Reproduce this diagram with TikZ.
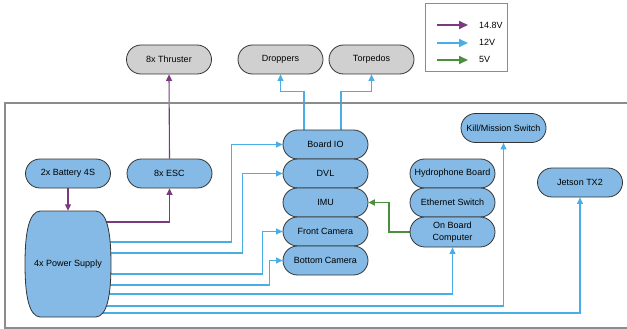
\documentclass[tikz,border=0pt]{standalone}
\usepackage{fontspec}
\setmainfont{Liberation Sans}
\usetikzlibrary{shapes.misc,arrows.meta,calc,backgrounds}
\definecolor{nodeblue}{HTML}{84BAE5}
\definecolor{nodegray}{HTML}{D0D0D0}
\definecolor{bordc}{HTML}{333333}
\definecolor{c12}{HTML}{4AAEE6}
\definecolor{c148}{HTML}{7A3A80}
\definecolor{c5}{HTML}{4A8F3C}
\definecolor{framec}{HTML}{8C8C8C}
\begin{document}
\begin{tikzpicture}[x=1pt,y=-1pt,
  box/.style={rounded rectangle, draw=bordc, line width=0.8pt, fill=nodeblue,
    minimum width=85pt, minimum height=29pt, inner sep=0pt, align=center,
    font=\fontsize{9}{11.5}\selectfont},
  gbox/.style={box, fill=nodegray},
  tip/.style={-{Triangle[length=6.5pt,width=6pt]}},
  bigtip/.style={-{Triangle[length=9pt,width=8pt]}},
  v12/.style={draw=c12, line width=1.1pt, tip},
  v148/.style={draw=c148, line width=1.1pt, tip},
  v5/.style={draw=c5, line width=1.8pt, tip},
  legtext/.style={font=\fontsize{9}{11}\selectfont, inner sep=0pt, anchor=west}]
\useasboundingbox (0,0) rectangle (627,329);
% outer frame
\draw[framec, line width=1.5pt] (5,103) rectangle (640,328);
% legend
\draw[framec, line width=1pt] (425,4) rectangle (507,72);
\node[legtext] (l1) at (479,25) {14.8V};
\node[legtext] (l2) at (479,42) {12V};
\node[legtext] (l3) at (479,59) {5V};
\coordinate (a1) at (437,25);
\coordinate (a2) at (437,43);
\coordinate (a3) at (437,60);
\draw[v148, line width=1.8pt, bigtip] (a1) -- ($(a1)+(31,0)$);
\draw[v12, line width=1.8pt, bigtip] (a2) -- ($(a2)+(31,0)$);
\draw[v5, line width=1.8pt, bigtip] (a3) -- ($(a3)+(31,0)$);
% top nodes
\node[gbox] (thr) at (169,59.5) {8x Thruster};
\node[gbox] (drop) at (280.5,59.5) {Droppers};
\node[gbox] (torp) at (371.5,59.5) {Torpedos};
% left nodes
\node[box] (bat) at (68,173.5) {2x Battery 4S};
\node[box] (esc) at (169.5,173.5) {8x ESC};
\path[fill=nodeblue, draw=bordc, line width=0.8pt]
  (40,211) -- (96,211) .. controls (107,212) and (111,232) .. (111,264)
  .. controls (111,296) and (107,316) .. (96,317)
  -- (40,317) .. controls (29,316) and (25,296) .. (25,264)
  .. controls (25,232) and (29,212) .. (40,211) -- cycle;
\node[font=\fontsize{9}{11}\selectfont, minimum width=84pt, minimum height=106pt, inner sep=0pt] (ps) at (68,264) {4x Power Supply};
% middle stack
\node[box] (bio) at (325.5,144.5) {Board IO};
\node[box] (dvl) at (325.5,173.5) {DVL};
\node[box] (imu) at (325.5,202.5) {IMU};
\node[box] (fcam) at (325.5,231.5) {Front Camera};
\node[box] (bcam) at (325.5,260.5) {Bottom Camera};
% right stack
\node[box] (hyd) at (452.5,173.5) {Hydrophone Board};
\node[box] (eth) at (452.5,202.5) {Ethernet Switch};
\node[box, minimum height=30pt] (obc) at (452.5,232) {On Board\\Computer};
\node[box] (kill) at (503.5,128) {Kill/Mission Switch};
\node[box] (jet) at (580,182.5) {Jetson TX2};
\begin{pgfonlayer}{background}
\draw[v148] (bat.south) -- (ps.north);
\draw[v148] ($(ps.center)+(0,-42)$) -| (esc.south);
\draw[v148] (esc.north) -- (thr.south);
\draw[v12] ($(ps.center)+(0,-22)$) -| ($(bio.west)+(-51,0)$) -- (bio.west);
\draw[v12] ($(ps.center)+(0,-11)$) -| ($(dvl.west)+(-40,0)$) -- (dvl.west);
\draw[v12] ($(ps.center)+(0,10)$) -| ($(fcam.west)+(-20,0)$) -- (fcam.west);
\draw[v12] ($(ps.center)+(0,21)$) -| ($(bcam.west)+(-13,0)$) -- (bcam.west);
\draw[v12] ($(ps.center)+(0,30)$) -| (obc.south);
\draw[v12] ($(ps.center)+(0,42)$) -| (kill.south);
\draw[v12] ($(ps.center)+(0,49)$) -| (jet.south);
\draw[v12] ($(bio.north)+(-21.5,0)$) -- ++(0,-38) -| (drop.south);
\draw[v12] ($(bio.north)+(15.5,0)$) -- ++(0,-38) -| (torp.south);
\draw[v5] (obc.west) -- ++(-21,0) |- (imu.east);
\end{pgfonlayer}
\end{tikzpicture}
\end{document}
